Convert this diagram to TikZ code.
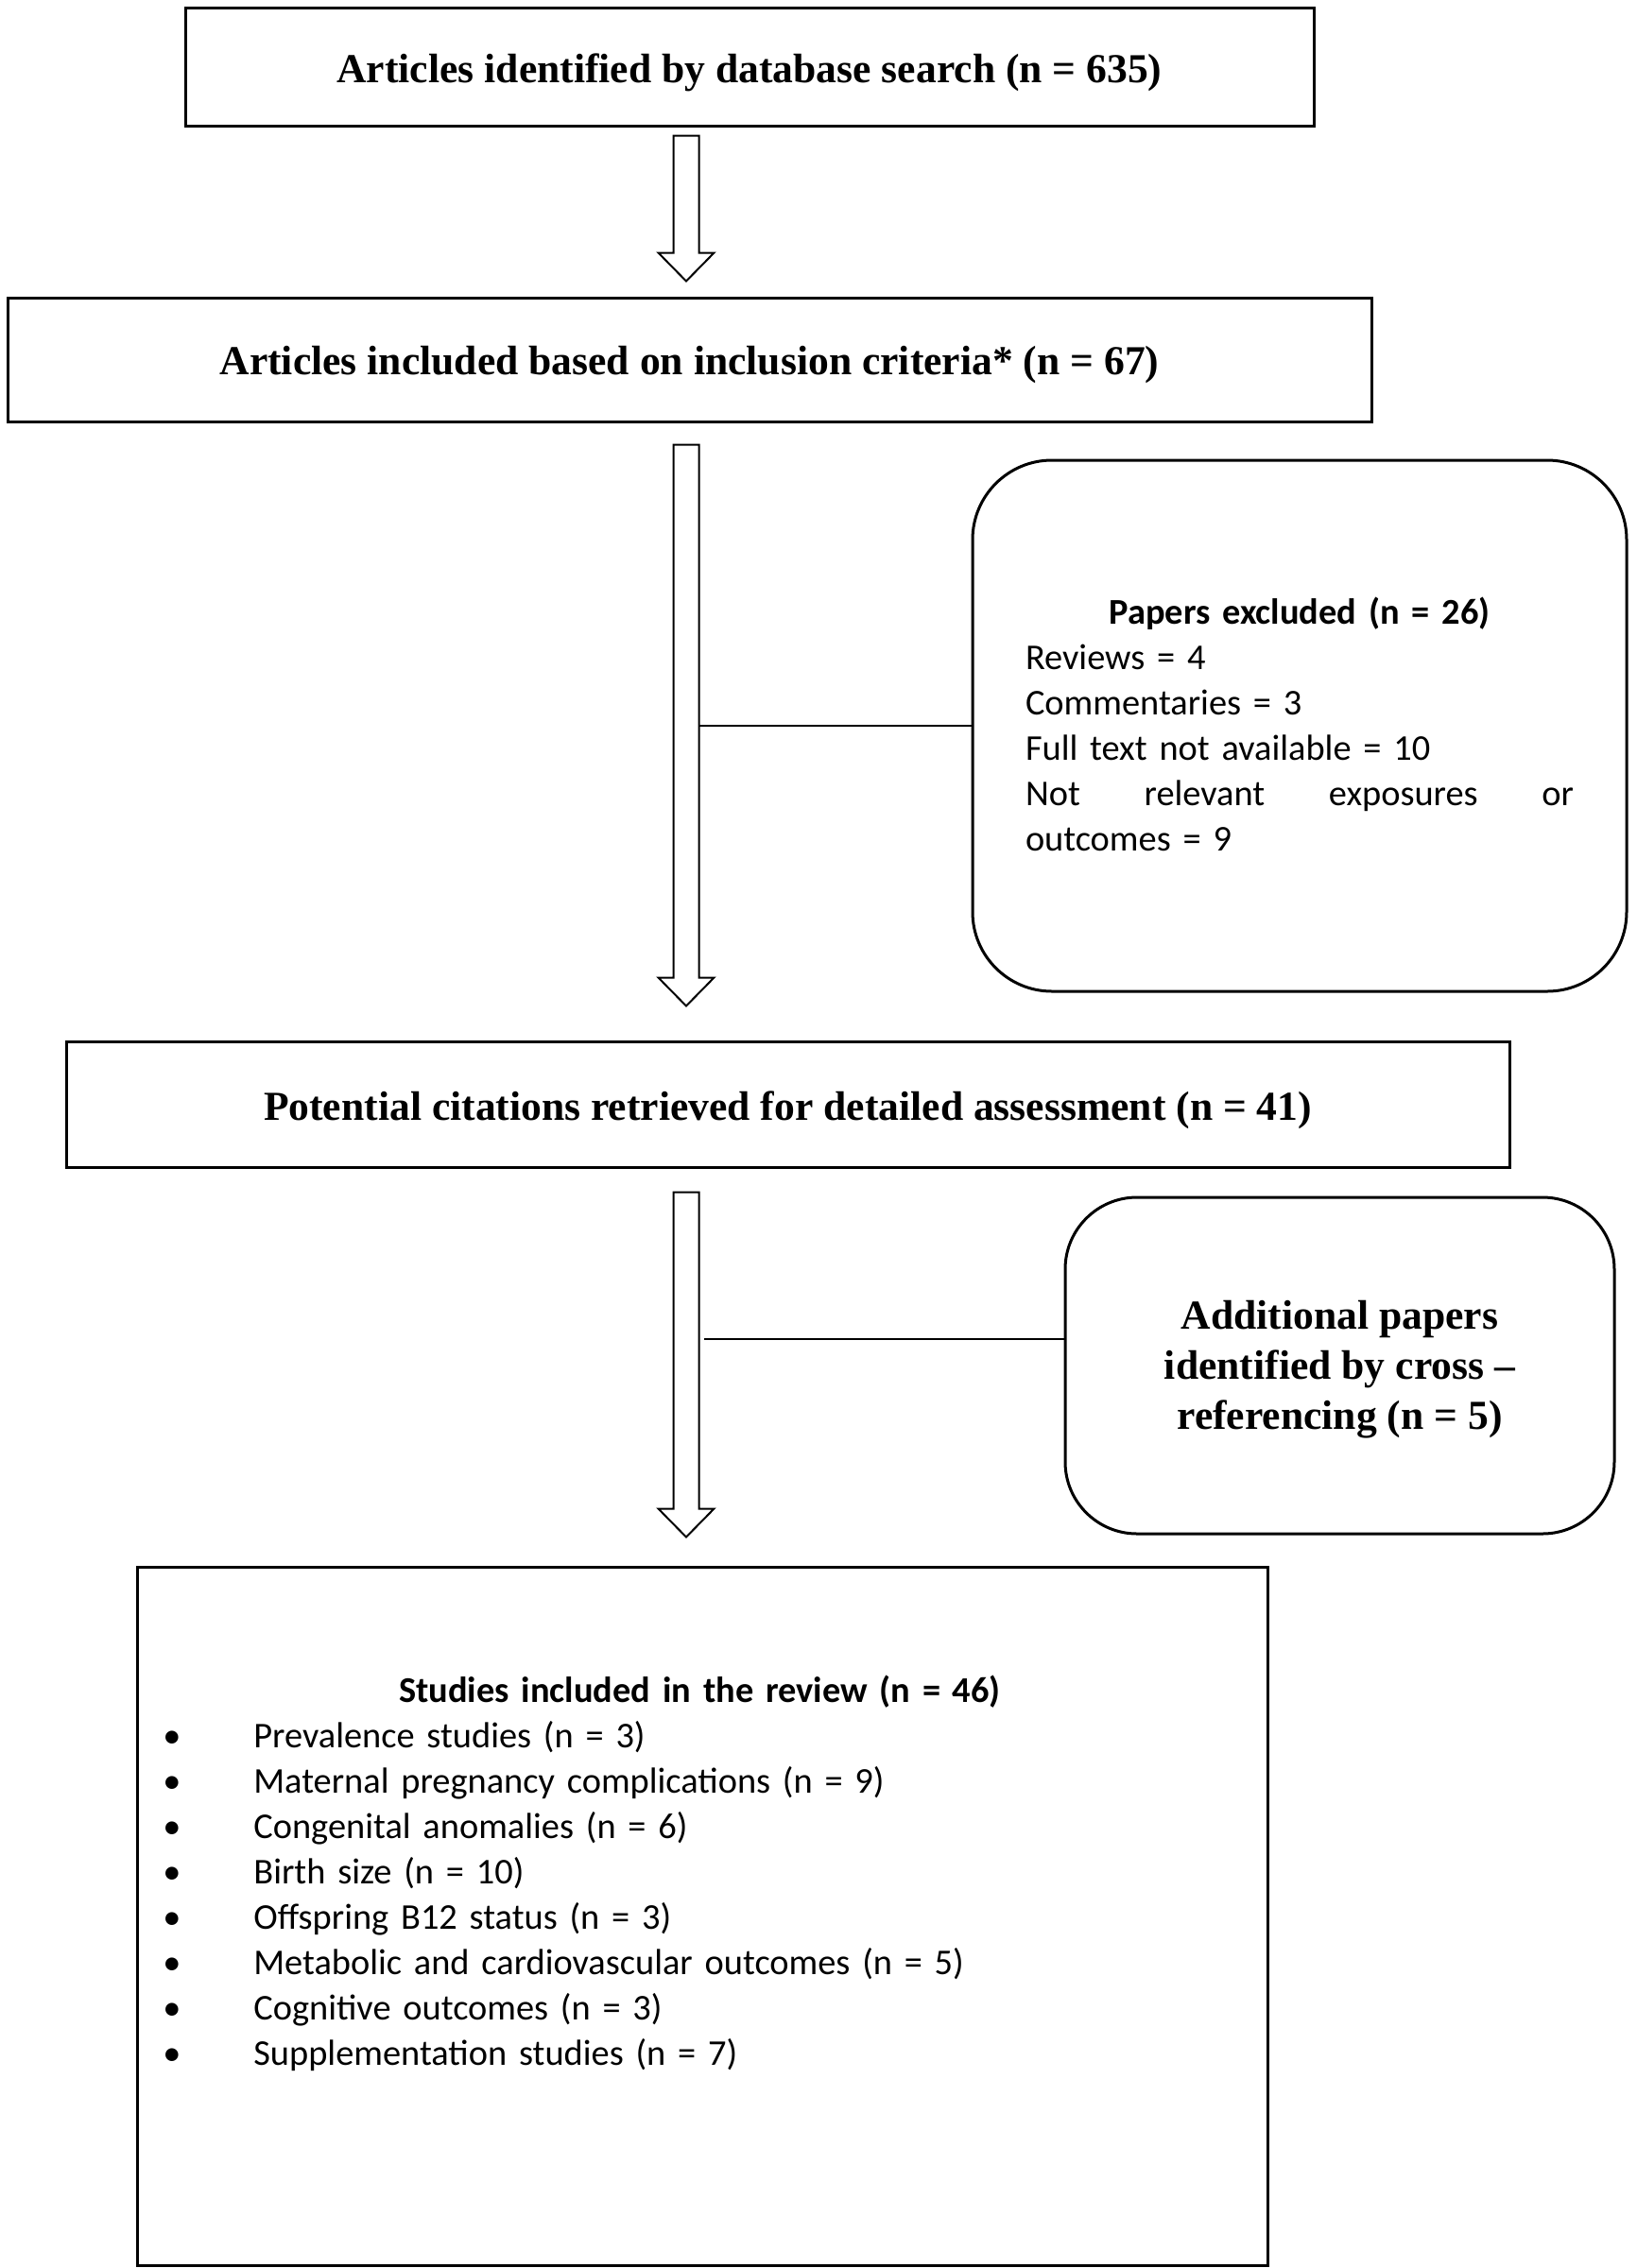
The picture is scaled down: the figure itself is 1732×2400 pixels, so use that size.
\documentclass[tikz,border=0pt]{standalone}
\usepackage{fontspec}
\setmainfont{Liberation Serif}
\newfontfamily\calibrifont{Carlito}
\usetikzlibrary{calc}
\newcommand\hollowarrow[2]{%
  \draw[harrow] let \p1=#1, \p2=#2 in
    (\x1-6.75pt,\y1) -- (\x1+6.75pt,\y1) -- (\x1+6.75pt,\y2+15pt) --
    (\x1+14.75pt,\y2+15pt) -- (\x1,\y2) -- (\x1-14.75pt,\y2+15pt) --
    (\x1-6.75pt,\y2+15pt) -- cycle;}
\newcommand\bul{\makebox[48pt][l]{\textbullet}}
\newcommand\lowered[1]{\raisebox{-3pt}[\height][\depth]{#1}}
\begin{document}
\begin{tikzpicture}[x=0.5pt,y=-0.5pt,
  box/.style={draw, line width=1.5pt, inner sep=0pt, align=center,
    font=\bfseries\fontsize{21.8}{26.5}\selectfont},
  rbox/.style={draw, line width=1.5pt, inner sep=0pt},
  conn/.style={line width=1.3pt},
  harrow/.style={draw, line width=1pt, fill=white, line join=miter},
  caltext/.style={inner sep=0pt, align=left,
    font=\calibrifont\fontsize{19.2}{24}\selectfont},
  timestext/.style={inner sep=0pt, align=center,
    font=\bfseries\fontsize{21.8}{26.5}\selectfont}]
\fill[white] (0,0) rectangle (1732,2400);
\useasboundingbox (0,0) rectangle (1732,2400);

% column of the arrows
\coordinate (colx) at (726,0);
\coordinate (sR) at (739.5,0);
\coordinate (sR2) at (745,0);

% boxes
\node[box, minimum width=597pt, minimum height=62.5pt] (b1) at (793,70.5)
  {\lowered{Articles identified by database search (n = 635)}};
\node[box, minimum width=721.5pt, minimum height=65.5pt] (b2) at (729.5,380.5)
  {\lowered{Articles included based on inclusion criteria* (n = 67)}};
\node[box, minimum width=763.5pt, minimum height=66.5pt] (b3) at (833.5,1168.5)
  {\lowered{Potential citations retrieved for detailed assessment (n = 41)}};
\node[draw, line width=1.5pt, minimum width=598pt, minimum height=369.5pt] (b4) at (743,2027.5) {};

% excluded papers
\node[rbox, rounded corners=42pt, minimum width=346pt, minimum height=281pt] (excl) at (1375,768) {};
\node[caltext, text width=290pt] (excltext) at ($(excl.center)+(0,-1.5)$)
  {\makebox[\linewidth]{\bfseries Papers excluded (n = 26)}\\
   Reviews = 4\\
   Commentaries = 3\\
   Full text not available = 10\\
   \makebox[\linewidth]{Not\hfill relevant\hfill exposures\hfill or}\\
   outcomes = 9};

% additional papers
\node[rbox, rounded corners=38pt, minimum width=290.5pt, minimum height=178pt] (add) at (1417.5,1445) {};
\node[timestext] (addtext) at ($(add.center)+(0,4.5)$)
  {Additional papers\\ identified by cross –\\ referencing (n = 5)};

% included studies list
\node[caltext, text width=568pt, anchor=north west] (items) at (172,1773)
  {\makebox[\linewidth]{\bfseries Studies included in the review (n = 46)}\\
   \bul Prevalence studies (n = 3)\\
   \bul Maternal pregnancy complications (n = 9)\\
   \bul Congenital anomalies (n = 6)\\
   \bul Birth size (n = 10)\\
   \bul Offspring B12 status (n = 3)\\
   \bul Metabolic and cardiovascular outcomes (n = 5)\\
   \bul Cognitive outcomes (n = 3)\\
   \bul Supplementation studies (n = 7)};

% hollow block arrows
\hollowarrow{($(b1.south -| colx)+(0,9)$)}{($(b2.north -| colx)+(0,-16)$)}
\hollowarrow{($(b2.south -| colx)+(0,23)$)}{($(b3.north -| colx)+(0,-36)$)}
\hollowarrow{($(b3.south -| colx)+(0,25)$)}{($(b4.north -| colx)+(0,-30)$)}

% side connectors
\draw[conn] (excl.west) -- (excl.west -| sR);
\coordinate (c2) at ($(add.west)+(0,-28)$);
\draw[conn] (c2) -- (c2 -| sR2);
\end{tikzpicture}
\end{document}
